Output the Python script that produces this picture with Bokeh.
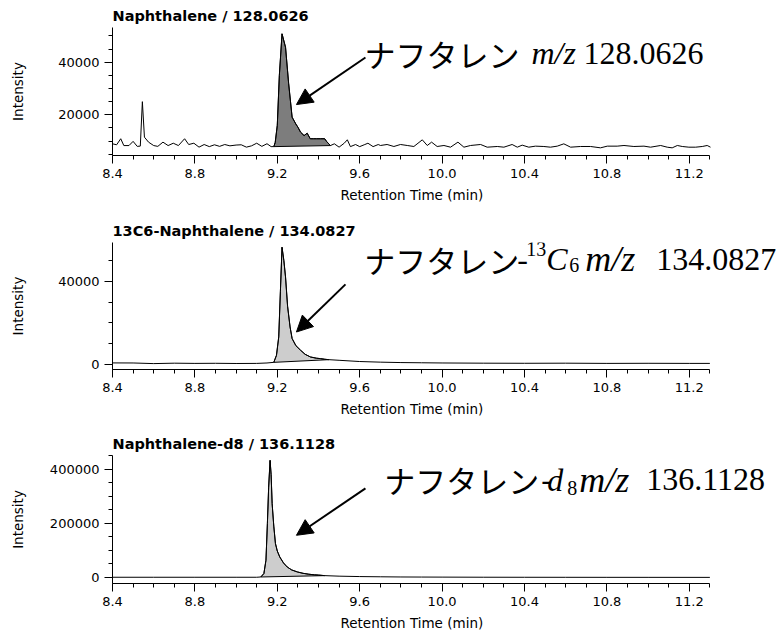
import numpy as np
from bokeh.plotting import figure
from bokeh.layouts import column
from bokeh.models import (Range1d, SingleIntervalTicker, PrintfTickFormatter,
                          Label, Arrow, NormalHead, Title)
from bokeh.embed import file_html
from bokeh.resources import INLINE

# ---------------- data ----------------
# Panel 1: Naphthalene / 128.0626
t1 = [8.400, 8.420, 8.440, 8.455, 8.480, 8.500, 8.520, 8.535, 8.545, 8.555, 8.575,
      8.600, 8.620, 8.645, 8.670, 8.695, 8.720, 8.750, 8.770, 8.795, 8.820, 8.845,
      8.870, 8.895, 8.920, 8.945, 8.970, 9.000, 9.025, 9.050, 9.075, 9.100, 9.125,
      9.150, 9.170, 9.183, 9.190, 9.200, 9.210, 9.223, 9.240, 9.255, 9.272, 9.290,
      9.300, 9.313, 9.330, 9.345, 9.360, 9.375, 9.390, 9.410, 9.430, 9.440, 9.458,
      9.477, 9.500, 9.525, 9.540, 9.555, 9.580, 9.600, 9.625, 9.640, 9.665, 9.690,
      9.701, 9.733, 9.766, 9.798, 9.831, 9.863, 9.904, 9.928, 9.949, 9.976, 10.009,
      10.041, 10.077, 10.106, 10.138, 10.187, 10.219, 10.268, 10.300, 10.340, 10.365,
      10.389, 10.421, 10.453, 10.494, 10.526, 10.559, 10.591, 10.624, 10.672, 10.721,
      10.769, 10.802, 10.850, 10.883, 10.931, 10.980, 11.012, 11.061, 11.093, 11.117,
      11.142, 11.166, 11.198, 11.231, 11.263, 11.287, 11.303]
i1 = [8970, 8600, 10900, 8300, 8300, 9900, 8000, 8100, 25000, 11500, 9600,
      8300, 8000, 9600, 8300, 9200, 8300, 10900, 8700, 9200, 7700, 8700,
      7900, 8600, 8000, 8700, 8200, 8500, 8600, 7700, 8200, 9200, 8000,
      9000, 7900, 7900, 9500, 16000, 35000, 50800, 45700, 32000, 19100, 16500,
      15300, 13400, 12100, 13000, 10900, 10900, 10900, 10900, 10900, 9800, 8300,
      8970, 7700, 9200, 10500, 7900, 8700, 7900, 8700, 9200, 7900, 8700,
      8330, 8710, 7950, 8710, 8330, 7950, 10480, 8330, 9600, 7950, 8330,
      7690, 9600, 7690, 8330, 8710, 7690, 7950, 7690, 8710, 7690,
      8460, 7690, 8080, 7950, 7690, 8080, 8960, 7690, 7950, 7950,
      7440, 8080, 8080, 8330, 7950, 8080, 7690, 8330, 7690, 7440,
      8330, 7950, 7690, 7690, 7950, 8330, 7690]
peak1 = (9.183, 9.458)

# Panel 2: 13C6-Naphthalene / 134.0827
t2 = [8.40, 8.50, 8.60, 8.70, 8.80, 8.90, 9.00, 9.10, 9.15, 9.183, 9.196, 9.207,
      9.215, 9.223, 9.232, 9.240, 9.250, 9.262, 9.272, 9.290, 9.313, 9.335, 9.361,
      9.390, 9.410, 9.430, 9.450, 9.50, 9.60, 9.70, 9.80, 9.90, 10.0, 10.2, 10.4,
      10.6, 10.8, 11.0, 11.2, 11.3]
i2 = [630, 600, 300, 500, 400, 450, 350, 400, 600, 900, 4300, 13200,
      35000, 56500, 50000, 42100, 28000, 18000, 12400, 9000, 6750, 4800, 3500,
      2900, 2700, 2400, 2200, 1900, 1300, 1000, 800, 700, 600, 500, 450,
      500, 400, 450, 400, 400]
peak2 = (9.183, 9.450)

# Panel 3: Naphthalene-d8 / 136.1128
t3 = [8.40, 8.60, 8.80, 9.00, 9.10, 9.120, 9.135, 9.145, 9.152, 9.158, 9.165,
      9.170, 9.175, 9.183, 9.191, 9.200, 9.212, 9.230, 9.248, 9.270, 9.297, 9.325,
      9.353, 9.380, 9.400, 9.430, 9.50, 9.60, 9.70, 9.80, 9.90, 10.0, 10.2, 10.4,
      10.6, 10.8, 11.0, 11.3]
i3 = [1000, 1000, 1000, 1000, 1000, 2000, 14800, 64000, 200000, 334000, 433000,
      380000, 273000, 190000, 125500, 98000, 76000, 54000, 39000, 28000, 20700, 15500,
      12200, 10000, 9000, 7000, 5000, 3500, 2700, 2000, 1700, 1500, 1100, 900,
      800, 700, 600, 500]
peak3 = (9.120, 9.430)

titles = ["Naphthalene / 128.0626", "13C6-Naphthalene / 134.0827",
          "Naphthalene-d8 / 136.1128"]
x_axis_bounds = (8.4, 11.3001)
x_view = (8.4, 11.638)   # extra room on the right for the annotation text

# ---------------- styling helpers ----------------
AX_FONT = "DejaVu Sans"
SERIF = "Liberation Serif"
CJK = "Noto Sans CJK JP"


def make_panel(title, t, inten, peak, fill, y_range, y_major, h, top, bottom,
               label_standoff):
    p = figure(width=779, height=h, output_backend="svg", toolbar_location=None,
               x_range=Range1d(*x_view), y_range=Range1d(*y_range),
               min_border_left=112, min_border_right=0,
               min_border_top=top, min_border_bottom=bottom)
    p.outline_line_color = None
    p.grid.visible = False
    p.background_fill_color = "white"
    p.border_fill_color = "white"

    p.title.text = title
    p.title.text_font = AX_FONT
    p.title.text_font_style = "bold"
    p.title.text_font_size = "14.5px"
    p.title.text_color = "black"
    p.title.align = "left"
    p.title.offset = 0
    p.title.standoff = 7

    t = np.asarray(t, dtype=float)
    inten = np.asarray(inten, dtype=float)
    m = (t >= peak[0]) & (t <= peak[1])
    p.patch(t[m], inten[m], fill_color=fill, line_color="black", line_width=1)
    p.line(t, inten, line_color="black", line_width=1)

    xa = p.xaxis[0]
    xa.bounds = x_axis_bounds
    xa.ticker = SingleIntervalTicker(interval=0.4, num_minor_ticks=4)
    xa.formatter = PrintfTickFormatter(format="%.1f")
    ya = p.yaxis[0]
    ya.ticker = SingleIntervalTicker(interval=y_major, num_minor_ticks=4)
    ya.axis_label = "Intensity"
    ya.formatter = PrintfTickFormatter(format="%d")
    for ax in (xa, ya):
        ax.axis_line_color = "black"
        ax.major_tick_line_color = "black"
        ax.minor_tick_line_color = "black"
        ax.major_tick_in = 0
        ax.major_tick_out = 8
        ax.minor_tick_in = 0
        ax.minor_tick_out = 4
        ax.major_label_text_font = AX_FONT
        ax.major_label_text_font_size = "13px"
        ax.major_label_text_color = "black"
        ax.axis_label_text_font = AX_FONT
        ax.axis_label_text_font_size = "13.5px"
        ax.axis_label_text_font_style = "normal"
        ax.axis_label_text_color = "black"
        ax.major_label_standoff = 5
    ya.axis_label_standoff = label_standoff

    xt = Title(text="Retention Time (min)", align="left", offset=228, standoff=9,
               text_font=AX_FONT, text_font_size="13.5px", text_font_style="normal",
               text_color="black")
    p.add_layout(xt, "below")
    return p


TEXT_DY = 11  # lift of the annotation text baseline


def add_text(p, x, y, parts):
    for dx, dy, text, font, style, size in parts:
        p.add_layout(Label(x=x, y=y, x_offset=dx, y_offset=dy + TEXT_DY, text=text,
                           text_font=font, text_font_style=style,
                           text_font_size=size,
                           text_baseline="alphabetic", text_align="left",
                           text_color="black"))


def add_arrow(p, xs, ys, xe, ye):
    p.add_layout(Arrow(end=NormalHead(size=16, fill_color="black", line_color="black"),
                       x_start=xs, y_start=ys, x_end=xe, y_end=ye,
                       line_width=2, line_color="black"))


p1 = make_panel(titles[0], t1, i1, peak1, "#7d7d7d", (4525, 53200), 20000,
                208, 27, 53, 29)
p2 = make_panel(titles[1], t2, i2, peak2, "#cdcdcd", (-2550, 58800), 40000,
                214, 34, 53, 29)
p3 = make_panel(titles[2], t3, i3, peak3, "#cdcdcd", (-22100, 451000), 200000,
                215, 33, 54, 21)

add_arrow(p1, 9.628, 41800, 9.293, 23900)
add_arrow(p2, 9.531, 38560, 9.293, 15570)
add_arrow(p3, 9.628, 329500, 9.293, 156100)

BIG = "32px"
MZ = "36px"
SMALL = "20px"
KANA = "31px"
add_text(p1, 9.623, 39310, [
    (0, 0, "ナフタレン", CJK, "normal", KANA),
    (167, 0, "m/z", SERIF, "italic", BIG),
    (219, 0, "128.0626", SERIF, "normal", BIG),
])
add_text(p2, 9.622, 45450, [
    (0, 0, "ナフタレン", CJK, "normal", KANA),
    (153, 0, "-", SERIF, "normal", BIG),
    (162, 10, "13", SERIF, "normal", SMALL),
    (182, 0, "C", SERIF, "italic", BIG),
    (205, -6, "6", SERIF, "normal", SMALL),
    (221, 0, "m/z", SERIF, "italic", MZ),
    (292, 0, "134.0827", SERIF, "normal", BIG),
])
add_text(p3, 9.719, 321070, [
    (0, 0, "ナフタレン", CJK, "normal", KANA),
    (157, 0, "-", SERIF, "normal", BIG),
    (163, 0, "d", SERIF, "italic", BIG),
    (183, -8, "8", SERIF, "normal", SMALL),
    (195, 0, "m/z", SERIF, "italic", MZ),
    (262, 0, "136.1128", SERIF, "normal", BIG),
])

layout = column(p1, p2, p3, spacing=0)
open("out.html", "w").write(file_html(layout, INLINE))
